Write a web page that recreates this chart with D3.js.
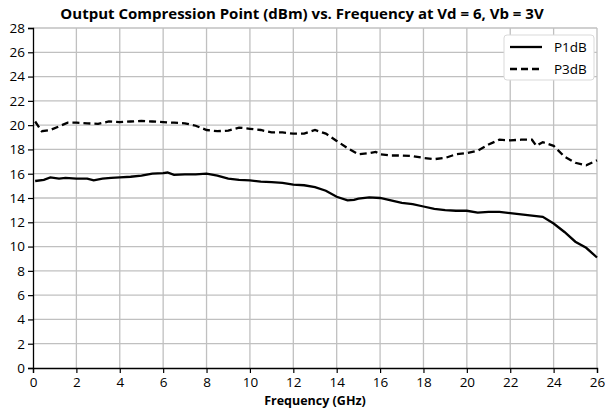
<!DOCTYPE html>
<meta charset="utf-8">
<script src="https://d3js.org/d3.v7.min.js"></script>
<style>
  body { margin: 0; background: #fff; }
  text { font-family: "Open Sans", "Noto Sans", sans-serif; }
</style>
<div id="chart"></div>
<script>
    const margin = {top: 28, right: 8, bottom: 46, left: 33},
        width = 605 - margin.left - margin.right,
        height = 414 - margin.top - margin.bottom;

    const xTicks = d3.range(0, 27, 2)
    const yTicks = d3.range(0, 29, 2)

    const p1dbFreq = [0.1,0.5,0.8,1.2,1.5,2,2.5,2.8,3.2,3.6,4,4.5,5,5.5,6,6.2,6.5,7,7.5,8,8.5,9,9.5,10,10.5,11,11.5,12,12.5,13,13.5,14,14.5,14.8,15,15.5,16,16.5,17,17.5,18,18.5,19,19.5,20,20.5,21,21.5,22,22.5,23,23.5,24,24.5,25,25.5,26]
    const p1db = [15.4,15.5,15.7,15.6,15.65,15.6,15.6,15.45,15.6,15.65,15.7,15.75,15.85,16.0,16.05,16.1,15.9,15.95,15.95,16.0,15.85,15.6,15.5,15.45,15.35,15.3,15.25,15.1,15.05,14.9,14.6,14.1,13.8,13.85,13.95,14.05,14.0,13.8,13.6,13.5,13.3,13.1,13.0,12.95,12.95,12.8,12.85,12.85,12.75,12.65,12.55,12.45,11.9,11.2,10.4,9.9,9.1]

    const p3dbFreq = [0.1,0.4,0.8,1.2,1.6,2,2.5,3,3.5,4,4.5,5,5.5,6,6.5,7,7.5,8,8.5,9,9.5,10,10.5,11,11.5,12,12.5,13,13.5,14,14.5,15,15.5,15.8,16,16.5,17,17.5,18,18.5,19,19.5,20,20.5,21,21.5,22,22.5,23,23.2,23.5,24,24.5,25,25.5,26]
    const p3db = [20.3,19.5,19.6,19.9,20.2,20.2,20.15,20.1,20.3,20.25,20.3,20.35,20.3,20.25,20.2,20.15,19.95,19.6,19.5,19.55,19.8,19.7,19.6,19.4,19.4,19.3,19.3,19.6,19.3,18.7,18.1,17.6,17.7,17.8,17.6,17.5,17.5,17.45,17.3,17.2,17.3,17.6,17.7,17.9,18.4,18.8,18.75,18.8,18.8,18.3,18.6,18.3,17.4,16.9,16.7,17.1]

    const svg = d3.select("#chart")
        .append("svg")
            .attr("width", width + margin.left + margin.right)
            .attr("height", height + margin.top + margin.bottom)
        .append("g")
            .attr("transform", `translate(${margin.left},${margin.top})`);

    const x = d3.scaleLinear().domain([0, 26]).range([0, width])
    const y = d3.scaleLinear().domain([0, 28]).range([height, 0])

    // grid
    svg.append("g").selectAll("line")
        .data(xTicks.slice(1))
        .join("line")
        .attr("x1", d => x(d)).attr("x2", d => x(d))
        .attr("y1", 0).attr("y2", height)
        .attr("stroke", "#c0c0c0").attr("stroke-width", 1.3)
    svg.append("g").selectAll("line")
        .data(yTicks.slice(1))
        .join("line")
        .attr("x1", 0).attr("x2", width)
        .attr("y1", d => y(d)).attr("y2", d => y(d))
        .attr("stroke", "#c0c0c0").attr("stroke-width", 1.3)

    // axes
    const xAxis = svg.append("g")
        .attr("transform", `translate(0,${height})`)
        .call(d3.axisBottom(x).tickValues(xTicks).tickSize(5).tickPadding(4))
    const yAxis = svg.append("g")
        .call(d3.axisLeft(y).tickValues(yTicks).tickSize(5).tickPadding(3))
    for (const a of [xAxis, yAxis]) {
        a.select(".domain").attr("stroke", "#000").attr("stroke-width", 1.3)
        a.selectAll(".tick line").attr("stroke", "#000").attr("stroke-width", 1.2)
        a.selectAll("text").attr("font-size", 13.5).attr("fill", "#000")
            .attr("font-family", "'Open Sans', sans-serif")
    }

    const line = d3.line().x(d => x(d[0])).y(d => y(d[1]))

    svg.append("path")
        .datum(d3.zip(p1dbFreq, p1db))
        .attr("fill", "none").attr("stroke", "#000").attr("stroke-width", 2.3)
        .attr("d", line)
    svg.append("path")
        .datum(d3.zip(p3dbFreq, p3db))
        .attr("fill", "none").attr("stroke", "#000").attr("stroke-width", 2.3)
        .attr("stroke-dasharray", "7,4")
        .attr("d", line)

    // title
    svg.append("text")
        .attr("x", 269).attr("y", -9)
        .attr("text-anchor", "middle")
        .attr("font-size", 15).attr("font-weight", "bold")
        .text("Output Compression Point (dBm) vs. Frequency at Vd = 6, Vb = 3V")

    svg.append("text")
        .attr("x", width / 2).attr("y", height + 37)
        .attr("text-anchor", "middle")
        .attr("font-size", 12.5).attr("font-weight", "bold")
        .text("Frequency (GHz)")

    // legend
    const legend = svg.append("g").attr("transform", `translate(${width - 93},7)`)
    legend.append("rect")
        .attr("width", 90).attr("height", 45).attr("rx", 3)
        .attr("fill", "#fff").attr("stroke", "#d9d9d9")
    const series = [{name: "P1dB", dash: null}, {name: "P3dB", dash: "7,4"}]
    series.forEach((s, i) => {
        const g = legend.append("g").attr("transform", `translate(0,${12 + i * 22})`)
        g.append("line")
            .attr("x1", 6).attr("x2", 38).attr("y1", 0).attr("y2", 0)
            .attr("stroke", "#000").attr("stroke-width", 2.3)
            .attr("stroke-dasharray", s.dash)
        g.append("text").attr("x", 50).attr("y", 5)
            .attr("font-size", 13.5).text(s.name)
    })
</script>
